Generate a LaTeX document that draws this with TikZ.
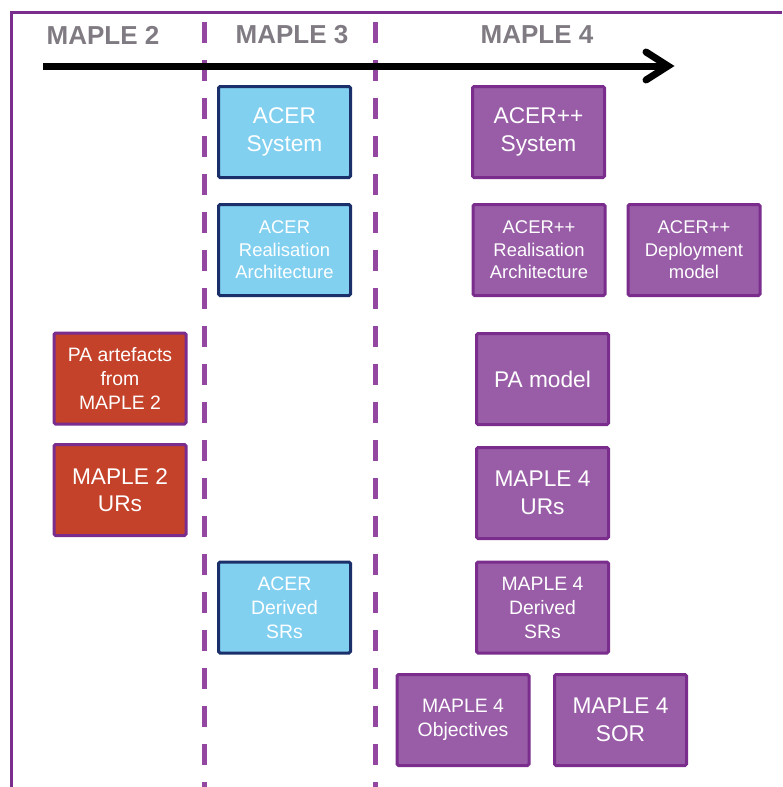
\documentclass[tikz,border=0pt]{standalone}
\usepackage{fontspec}
\setmainfont{Liberation Sans}
\begin{document}
\definecolor{frame}{HTML}{7B2D8E}
\definecolor{divider}{HTML}{9347A1}
\definecolor{headgray}{HTML}{807B82}
\definecolor{acerfill}{HTML}{82D0F0}
\definecolor{acerline}{HTML}{1B2F6B}
\definecolor{mfourfill}{HTML}{985DA6}
\definecolor{mtwofill}{HTML}{C4422A}
\begin{tikzpicture}[x=1pt,y=-1pt,
  header/.style={text=headgray,font=\fontsize{26}{30}\selectfont\bfseries},
  box/.style={draw,line width=3pt,rounded corners=1.5pt,minimum width=132pt,
    minimum height=91pt,align=center,text=white,inner sep=0pt},
  acer/.style={box,fill=acerfill,draw=acerline},
  mfour/.style={box,fill=mfourfill,draw=frame},
  mtwo/.style={box,fill=mtwofill,draw=frame},
  big/.style={font=\fontsize{22.7}{27.5}\selectfont},
  mid/.style={font=\fontsize{19.4}{24}\selectfont},
  small/.style={font=\fontsize{18.4}{22.5}\selectfont},
  divline/.style={draw=divider,line width=5pt,dash pattern=on 21pt off 17pt}]
\useasboundingbox (0,0) rectangle (782,787);

% outer frame (open at the bottom and right)
\draw[frame,line width=3pt] (11,787) -- (11,12) -- (782,12);

% phase dividers
\coordinate (d1top) at (204,22);
\coordinate (d1bot) at (204,787);
\coordinate (d2top) at (375,22);
\coordinate (d2bot) at (375,787);
\path[divline] (d1top) -- (d1bot);
\path[divline] (d2top) -- (d2bot);

% phase headers
\node[header] (h2) at (103,35) {MAPLE 2};
\node[header] (h3) at (292,35) {MAPLE 3};
\node[header] (h4) at (537,35) {MAPLE 4};

% timeline arrow
\coordinate (tlstart) at (43,66);
\coordinate (tlend) at (668,66);
\draw[line width=7pt] (tlstart) -- (tlend);
\draw[line width=7pt,line join=miter,line cap=round] (tlend) ++(-22,-14) -- (tlend) -- ++(-22,14);

% MAPLE 3 artefacts
\node[acer,big] (acersys) at (284.5,132) {ACER\\System};
\node[acer,small] (acerra) at (284.5,250) {ACER\\Realisation\\Architecture};
\node[acer,mid] (acersr) at (284.5,607.5) {ACER\\Derived\\SRs};

% MAPLE 4 artefacts
\node[mfour,big] (ppsys) at (538.5,132) {ACER++\\System};
\node[mfour,small] (ppra) at (539,250) {ACER++\\Realisation\\Architecture};
\node[mfour,small] (ppdep) at (694,250) {ACER++\\Deployment\\model};
\node[mfour,big] (pamodel) at (542.5,379) {PA model};
\node[mfour,big] (m4ur) at (542.5,493) {MAPLE 4\\URs};
\node[mfour,mid] (m4sr) at (542.5,607.5) {MAPLE 4\\Derived\\SRs};
\node[mfour,mid] (m4obj) at (463,720) {MAPLE 4\\Objectives};
\node[mfour,big] (m4sor) at (620.5,720) {MAPLE 4\\SOR};

% MAPLE 2 artefacts
\node[mtwo,mid] (paart) at (120,378.5) {PA artefacts\\from\\MAPLE 2};
\node[mtwo,big] (m2ur) at (120,490) {MAPLE 2\\URs};
\end{tikzpicture}
\end{document}
